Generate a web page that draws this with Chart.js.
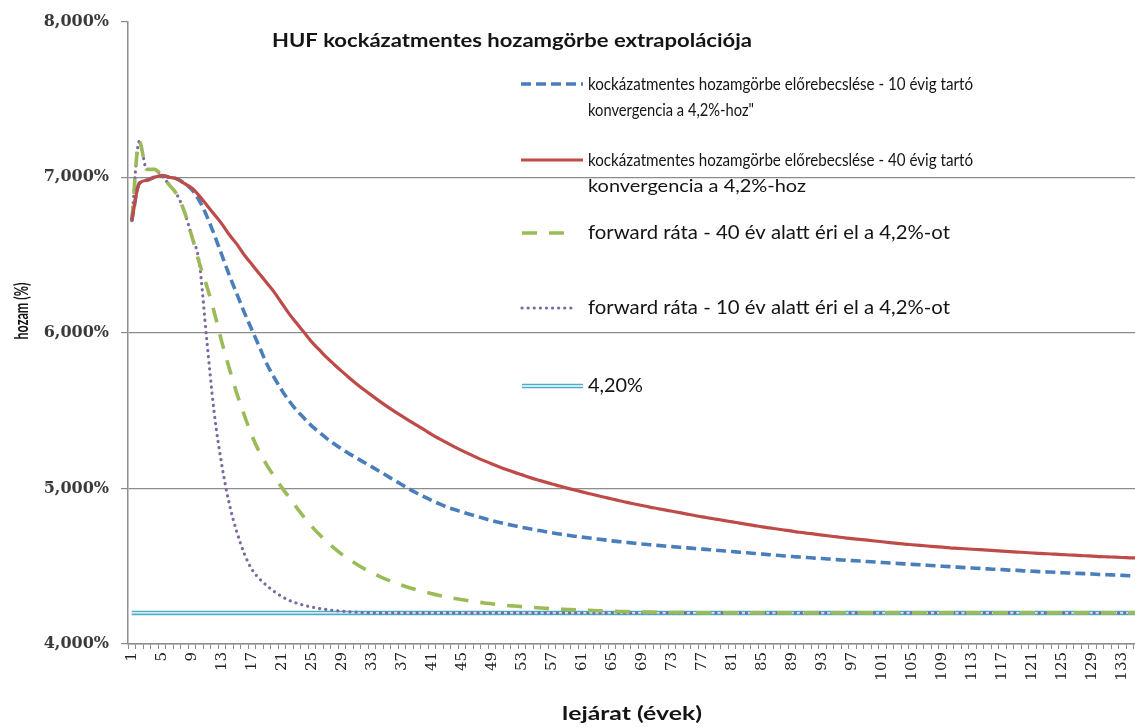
<!DOCTYPE html>
<html>
<head>
<meta charset="utf-8">
<script src="https://cdn.jsdelivr.net/npm/chart.js@4.4.1/dist/chart.umd.min.js"></script>
<style>
html,body{margin:0;padding:0;background:#fff;overflow:hidden;width:1135px;height:727px}
#wrap{position:relative;width:1135px;height:727px;overflow:hidden}
canvas{display:block}
</style>
</head>
<body>
<div id="wrap"><canvas id="c" width="1166" height="727"></canvas></div>
<script>
// ---- categories (maturity in years) ----
const years = [
  1,2,3,4,5,6,7,8,9,10, 11,12,13,14,15,16,17,18,19,20,
  21,22,23,24,25,26,27,28,29,30, 31,32,33,34,35,36,37,38,39,40,
  41,42,43,44,45,46,47,48,49,50, 51,52,53,54,55,56,57,58,59,60,
  61,62,63,64,65,66,67,68,69,70, 71,72,73,74,75,76,77,78,79,80,
  81,82,83,84,85,86,87,88,89,90, 91,92,93,94,95,96,97,98,99,100,
  101,102,103,104,105,106,107,108,109,110, 111,112,113,114,115,116,117,118,119,120,
  121,122,123,124,125,126,127,128,129,130, 131,132,133,134,135,136
];
const xTickLabels = [1,5,9,13,17,21,25,29,33,37,41,45,49,53,57,61,65,69,73,77,81,85,89,93,97,101,105,109,113,117,121,125,129,133];
const yTicks = [4,5,6,7,8];

const seriesNames = [
  'kockázatmentes hozamgörbe előrebecslése - 10 évig tartó\nkonvergencia a 4,2%-hoz"',
  'kockázatmentes hozamgörbe előrebecslése - 40 évig tartó\nkonvergencia a 4,2%-hoz',
  'forward ráta - 40 év alatt éri el a 4,2%-ot',
  'forward ráta - 10 év alatt éri el a 4,2%-ot',
  '4,20%'
];
const chartTitle = 'HUF kockázatmentes hozamgörbe extrapolációja';
const yAxisTitle = 'hozam (%)';
const xAxisTitle = 'lejárat (évek)';

// ---- series values (%) ----
const spot10 = [
  6.72,6.96,6.98,7.00,7.01,7.00,6.99,6.96,6.92,6.85,
  6.75,6.63,6.50,6.37,6.25,6.13,6.02,5.91,5.80,5.71,
  5.63,5.56,5.50,5.45,5.40,5.36,5.32,5.285,5.252,5.222,
  5.194,5.166,5.138,5.110,5.081,5.052,5.023,4.995,4.969,4.945,
  4.922,4.900,4.880,4.864,4.849,4.834,4.820,4.806,4.793,4.781,
  4.770,4.760,4.750,4.741,4.732,4.723,4.715,4.707,4.700,4.693,
  4.687,4.681,4.675,4.669,4.663,4.658,4.653,4.648,4.643,4.638,
  4.634,4.630,4.626,4.622,4.618,4.614,4.610,4.606,4.602,4.598,
  4.594,4.590,4.586,4.582,4.578,4.574,4.570,4.566,4.562,4.559,
  4.556,4.552,4.549,4.546,4.542,4.539,4.536,4.533,4.530,4.527,
  4.524,4.521,4.518,4.515,4.512,4.509,4.506,4.503,4.500,4.497,
  4.494,4.491,4.488,4.486,4.483,4.480,4.478,4.475,4.473,4.470,
  4.468,4.465,4.463,4.461,4.458,4.456,4.454,4.452,4.450,4.447,
  4.445,4.443,4.441,4.439,4.437,4.435
];
const spot40 = [
  6.72,6.96,6.98,7.00,7.01,7.00,6.99,6.96,6.93,6.88,
  6.82,6.76,6.70,6.63,6.57,6.50,6.44,6.38,6.32,6.26,
  6.19,6.12,6.06,6.00,5.94,5.89,5.84,5.795,5.752,5.71,
  5.670,5.632,5.596,5.561,5.527,5.495,5.464,5.434,5.405,5.376,
  5.345,5.318,5.292,5.267,5.243,5.220,5.198,5.177,5.157,5.138,
  5.120,5.103,5.087,5.071,5.056,5.042,5.028,5.015,5.002,4.990,
  4.978,4.966,4.954,4.943,4.932,4.921,4.910,4.900,4.890,4.880,
  4.871,4.862,4.853,4.844,4.835,4.826,4.817,4.809,4.801,4.793,
  4.785,4.777,4.769,4.761,4.753,4.746,4.739,4.732,4.725,4.718,
  4.712,4.706,4.700,4.694,4.688,4.682,4.677,4.672,4.667,4.662,
  4.657,4.652,4.647,4.642,4.638,4.634,4.630,4.626,4.622,4.618,
  4.615,4.612,4.609,4.606,4.603,4.600,4.597,4.594,4.591,4.588,
  4.585,4.582,4.580,4.577,4.575,4.572,4.570,4.567,4.565,4.562,
  4.560,4.558,4.556,4.554,4.552,4.550
];
const fwd40 = [
  6.72,7.23,7.05,7.05,7.01,6.95,6.89,6.78,6.62,6.45,
  6.30,6.13,5.94,5.77,5.61,5.47,5.34,5.235,5.15,5.075,
  5.005,4.94,4.875,4.812,4.755,4.703,4.656,4.614,4.576,4.542,
  4.511,4.483,4.458,4.435,4.414,4.395,4.378,4.362,4.348,4.335,
  4.323,4.312,4.302,4.293,4.285,4.277,4.270,4.264,4.258,4.253,
  4.248,4.244,4.240,4.236,4.233,4.230,4.227,4.224,4.222,4.220,
  4.218,4.216,4.214,4.212,4.211,4.209,4.208,4.207,4.206,4.205,
  4.204,4.203,4.202,4.202,4.201,4.201,4.20,4.20,4.20,4.20,
  4.20,4.20,4.20,4.20,4.20,4.20,4.20,4.20,4.20,4.20,
  4.20,4.20,4.20,4.20,4.20,4.20,4.20,4.20,4.20,4.20,
  4.20,4.20,4.20,4.20,4.20,4.20,4.20,4.20,4.20,4.20,
  4.20,4.20,4.20,4.20,4.20,4.20,4.20,4.20,4.20,4.20,
  4.20,4.20,4.20,4.20,4.20,4.20,4.20,4.20,4.20,4.20,
  4.20,4.20,4.20,4.20,4.20,4.20
];
const fwd10 = [
  6.72,7.23,7.05,7.05,7.01,6.95,6.89,6.78,6.62,6.45,
  5.95,5.48,5.15,4.90,4.72,4.58,4.48,4.42,4.375,4.337,
  4.305,4.280,4.262,4.248,4.237,4.228,4.221,4.215,4.211,4.207,
  4.204,4.202,4.201,4.20,4.20,4.20,4.20,4.20,4.20,4.20,
  4.20,4.20,4.20,4.20,4.20,4.20,4.20,4.20,4.20,4.20,
  4.20,4.20,4.20,4.20,4.20,4.20,4.20,4.20,4.20,4.20,
  4.20,4.20,4.20,4.20,4.20,4.20,4.20,4.20,4.20,4.20,
  4.20,4.20,4.20,4.20,4.20,4.20,4.20,4.20,4.20,4.20,
  4.20,4.20,4.20,4.20,4.20,4.20,4.20,4.20,4.20,4.20,
  4.20,4.20,4.20,4.20,4.20,4.20,4.20,4.20,4.20,4.20,
  4.20,4.20,4.20,4.20,4.20,4.20,4.20,4.20,4.20,4.20,
  4.20,4.20,4.20,4.20,4.20,4.20,4.20,4.20,4.20,4.20,
  4.20,4.20,4.20,4.20,4.20,4.20,4.20,4.20,4.20,4.20,
  4.20,4.20,4.20,4.20,4.20,4.20
];
const level420 = [
  4.2,4.2,4.2,4.2,4.2,4.2,4.2,4.2,4.2,4.2, 4.2,4.2,4.2,4.2,4.2,4.2,4.2,4.2,4.2,4.2,
  4.2,4.2,4.2,4.2,4.2,4.2,4.2,4.2,4.2,4.2, 4.2,4.2,4.2,4.2,4.2,4.2,4.2,4.2,4.2,4.2,
  4.2,4.2,4.2,4.2,4.2,4.2,4.2,4.2,4.2,4.2, 4.2,4.2,4.2,4.2,4.2,4.2,4.2,4.2,4.2,4.2,
  4.2,4.2,4.2,4.2,4.2,4.2,4.2,4.2,4.2,4.2, 4.2,4.2,4.2,4.2,4.2,4.2,4.2,4.2,4.2,4.2,
  4.2,4.2,4.2,4.2,4.2,4.2,4.2,4.2,4.2,4.2, 4.2,4.2,4.2,4.2,4.2,4.2,4.2,4.2,4.2,4.2,
  4.2,4.2,4.2,4.2,4.2,4.2,4.2,4.2,4.2,4.2, 4.2,4.2,4.2,4.2,4.2,4.2,4.2,4.2,4.2,4.2,
  4.2,4.2,4.2,4.2,4.2,4.2,4.2,4.2,4.2,4.2, 4.2,4.2,4.2,4.2,4.2,4.2
];

const GRID = '#8c8c8c';
const TXT = '#141414';
const FONT = 'Lato';

// draw text with a given font size, horizontally scaled to a target width
function drawFit(ctx, text, x, y, size, weight, targetW, align) {
  ctx.font = weight + ' ' + size + 'px ' + FONT;
  const w = ctx.measureText(text).width;
  ctx.save();
  ctx.translate(x, y);
  ctx.scale(targetW / w, 1);
  ctx.textAlign = align || 'left';
  ctx.textBaseline = 'middle';
  ctx.fillText(text, 0, 0);
  ctx.restore();
}

const decor = {
  id: 'decor',
  afterDraw(chart) {
    const ctx = chart.ctx;
    ctx.save();
    ctx.fillStyle = TXT;
    // title
    drawFit(ctx, chartTitle, 272, 41, 19, 'bold', 480);

    // legend
    const rows = [
      {ds: 0, y: 84, x0: 521, x1: 583, size: 18, widths: [385, 166]},
      {ds: 1, y: 160, x0: 521, x1: 583, size: 18, widths: [385, 218]},
      {ds: 2, y: 233, x0: 522, x1: 570, size: 19, widths: [362]},
      {ds: 3, y: 308, x0: 522, x1: 575, size: 19, widths: [362]},
      {ds: 4, y: 386, x0: 522, x1: 583, size: 19, widths: [55]}
    ];
    rows.forEach(r => {
      const d = chart.data.datasets[r.ds];
      ctx.save();
      ctx.lineCap = d.borderCapStyle || 'butt';
      ctx.setLineDash(d.borderDash || []);
      ctx.strokeStyle = d.borderColor;
      ctx.lineWidth = d.borderWidth;
      ctx.beginPath(); ctx.moveTo(r.x0, r.y); ctx.lineTo(r.x1, r.y); ctx.stroke();
      if (r.ds === 4) {
        const inner = chart.data.datasets[5];
        ctx.strokeStyle = inner.borderColor;
        ctx.lineWidth = inner.borderWidth;
        ctx.beginPath(); ctx.moveTo(r.x0, r.y); ctx.lineTo(r.x1, r.y); ctx.stroke();
      }
      ctx.restore();
      ctx.fillStyle = TXT;
      d.label.split('\n').forEach((t, i) => drawFit(ctx, t, 588, r.y + i * 26, r.size, 'normal', r.widths[i]));
    });

    // axis titles
    drawFit(ctx, xAxisTitle, 632, 714, 18, 'bold', 140, 'center');
    ctx.save();
    ctx.translate(22, 311);
    ctx.rotate(-Math.PI / 2);
    drawFit(ctx, yAxisTitle, 0, 0, 18, 'bold', 57, 'center');
    ctx.restore();
    ctx.restore();
  }
};

new Chart(document.getElementById('c'), {
  type: 'line',
  data: {
    labels: years,
    datasets: [
      {label: seriesNames[0], data: spot10, borderColor: '#4a7ebb', borderWidth: 3.6, borderDash: [10, 5], order: 1},
      {label: seriesNames[1], data: spot40, borderColor: '#be4b48', borderWidth: 3.2, order: 0},
      {label: seriesNames[2], data: fwd40, borderColor: '#9bbb59', borderWidth: 3.6, borderDash: [15, 12], order: 2},
      {label: seriesNames[3], data: fwd10, borderColor: '#7d68a0', borderWidth: 3.2, borderDash: [0.1, 6], borderCapStyle: 'round', order: 3},
      {label: seriesNames[4], data: level420, borderColor: '#4bacc6', borderWidth: 4.5, order: 5},
      {label: 'inner', data: level420, borderColor: '#ffffff', borderWidth: 1.4, order: 4}
    ]
  },
  options: {
    responsive: false,
    animation: false,
    layout: {padding: {top: 20, left: 0, right: 0, bottom: 0}},
    plugins: {legend: {display: false}, tooltip: {enabled: false}, title: {display: false}},
    elements: {point: {radius: 0}, line: {cubicInterpolationMode: 'monotone', fill: false}},
    scales: {
      x: {
        type: 'category',
        offset: true,
        grid: {display: true, drawOnChartArea: false, drawTicks: true, tickLength: 5, color: GRID, tickColor: GRID, offset: true},
        border: {display: true, color: GRID, width: 1.5},
        ticks: {
          autoSkip: false, maxRotation: 90, minRotation: 90, padding: 3,
          color: '#222', font: {family: 'DejaVu Serif', size: 15},
          callback: function (v) {
            const l = this.getLabelForValue(v);
            return xTickLabels.includes(Number(l)) ? String(l) : '';
          }
        },
        afterFit: s => { s.height = 83; }
      },
      y: {
        min: 4, max: 8,
        afterBuildTicks: s => { s.ticks = yTicks.map(v => ({value: v})); },
        grid: {
          color: c => (c.tick && c.tick.value === 8) ? 'rgba(0,0,0,0)' : GRID,
          tickColor: GRID, tickLength: 7, drawTicks: true, lineWidth: 1.2
        },
        border: {display: true, color: GRID, width: 1.5},
        ticks: {
          padding: 12, color: '#3a3a3a', font: {family: 'DejaVu Serif', size: 16, weight: 'bold'},
          callback: v => v.toFixed(3).replace('.', ',') + '%'
        },
        afterFit: s => { s.width = 128; }
      }
    }
  },
  plugins: [decor]
});
</script>
</body>
</html>
